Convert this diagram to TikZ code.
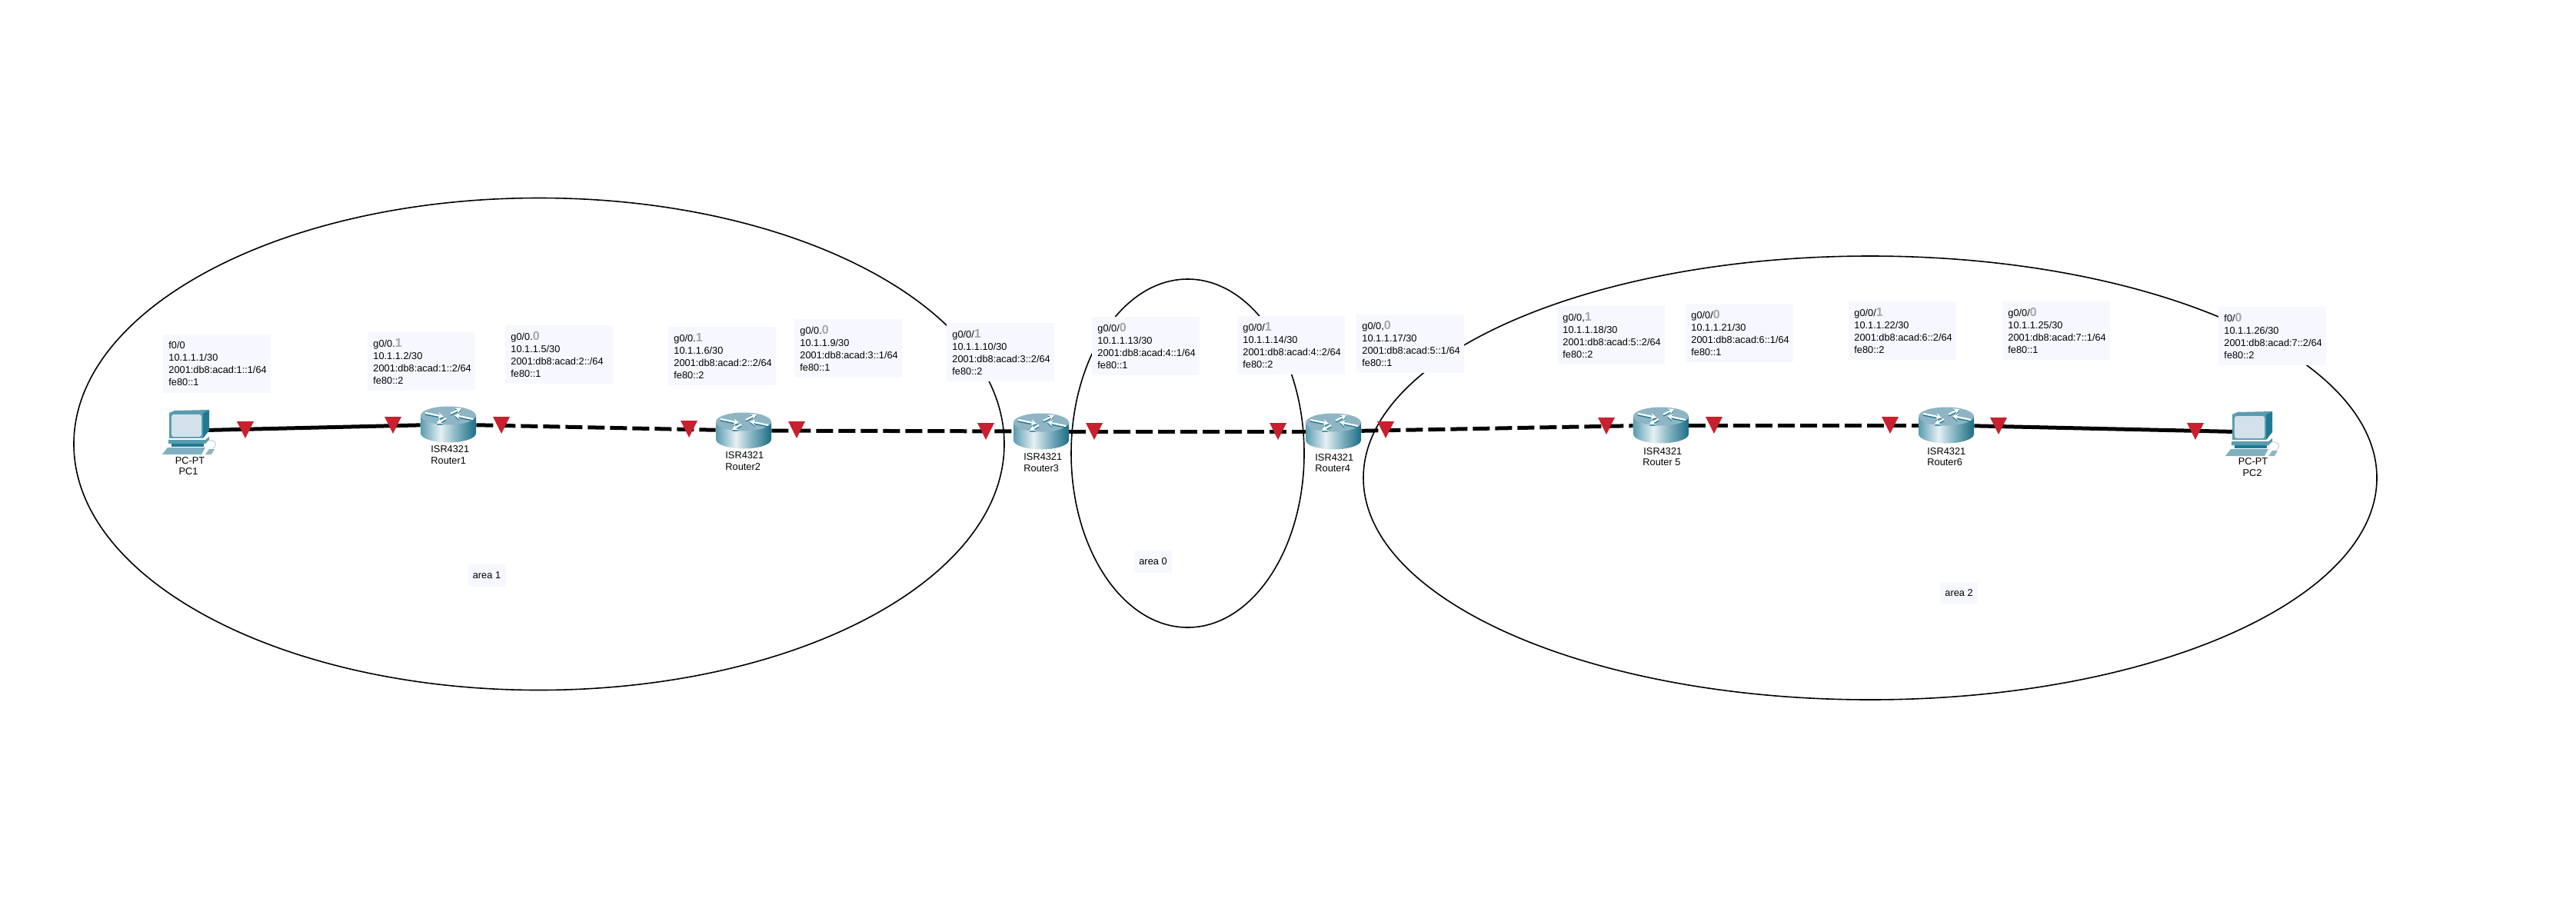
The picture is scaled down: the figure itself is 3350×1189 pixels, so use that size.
\documentclass[tikz,border=0pt]{standalone}
\usepackage{fontspec}
\setmainfont{Liberation Sans}
\usetikzlibrary{arrows.meta}
\definecolor{lblbg}{HTML}{F7F8FF}
\definecolor{tri}{HTML}{C8202F}
\definecolor{rtop}{HTML}{8FB5C4}
\definecolor{rdark}{HTML}{1F7A94}
\definecolor{rmid}{HTML}{5A9CB0}
\definecolor{rkey}{HTML}{7FB0BF}
\definecolor{rscreen}{HTML}{D3E2EA}
\pgfdeclarehorizontalshading{routerbody}{100bp}{color(0bp)=(rmid); color(25bp)=(rmid); color(43bp)=(white!85!rmid); color(58bp)=(rkey); color(75bp)=(rdark!90!black); color(100bp)=(rdark!90!black)}
\tikzset{
  lbl/.style={fill=lblbg,anchor=north west,minimum width=70pt,minimum height=38pt,inner xsep=3.5pt,inner ysep=0pt,text width=63pt,align=left,font=\fontsize{6.4}{8}\selectfont},
  devtxt/.style={inner sep=0pt,font=\fontsize{6.4}{8}\selectfont},
  arealbl/.style={fill=lblbg,minimum width=24.5pt,minimum height=14.5pt,inner sep=0pt,font=\fontsize{6.4}{8}\selectfont},
  area/.style={draw=black,line width=0.8pt},
  solidlink/.style={draw=black,line width=2.5pt},
  dashlink/.style={draw=black,line width=2.5pt,dash pattern=on 11pt off 3.5pt},
  rnode/.style={inner sep=0pt,minimum width=36pt,minimum height=23.5pt},
  pcnode/.style={inner sep=0pt,minimum size=1pt},
  rarrow/.style={line width=1.1pt,-{Stealth[length=3.6pt,width=4.2pt]}},
}
\newcommand{\smu}[1]{\textcolor{gray!70}{\fontsize{8}{8}\selectfont\textbf{#1}}}
\newcommand{\trimark}[2]{\fill[tri] (#1-11,#2) -- (#1+11,#2) -- (#1,#2+22) -- cycle;}
\newcommand{\routericon}[1]{%
  \begin{scope}[shift={(#1)}]
    \path[shading=routerbody] (-36,-11.5) -- (-36,11.5) arc[start angle=180,end angle=360,x radius=18pt,y radius=6pt] -- (36,-11.5) -- cycle;
    \fill[rtop] (0,-11.5) ellipse[x radius=18pt,y radius=6pt];
    \foreach \c/\o in {rdark/1.6,white/0}{
      \draw[rarrow,\c] (-30,-15+\o) -- (-6,-10+\o);
      \draw[rarrow,\c] (32,-7+\o) -- (8,-12+\o);
      \draw[rarrow,\c] (3,-14+\o) -- (17,-21+\o);
      \draw[rarrow,\c] (-3,-8+\o) -- (-15,-1+\o);
    }
  \end{scope}}
\newcommand{\pcicon}[1]{%
  \begin{scope}[shift={(#1)}]
    \fill[rmid] (-26,-23) -- (-19,-26) -- (26,-27) -- (18,-23) -- cycle;
    \fill[rdark] (18,-23) -- (26,-27) -- (26,0) -- (18,10) -- cycle;
    \fill[rmid] (-26,-23) rectangle (18,10);
    \fill[rscreen,rounded corners=1.5pt] (-23,-21) rectangle (16,8);
    \fill[rmid] (-27,12) -- (21,12) -- (26,8) -- (26,12) -- (21,17) -- (-27,17) -- cycle;
    \fill[rdark] (-23,17) rectangle (19,21);
    \fill[rkey] (-35,31) -- (-28,22) -- (21,22) -- (16,31) -- cycle;
    \fill[rtop] (21,31) -- (26,24) -- (33,24) -- (29,31) -- cycle;
    \draw[rscreen!80!gray,line width=0.5pt] (31,23) .. controls (38,18) and (34,12) .. (26,13);
  \end{scope}}
\begin{document}
\begin{tikzpicture}[x=0.5pt,y=-0.5pt]
\useasboundingbox (0,0) rectangle (3350,1189);
% areas
\draw[area] (701,577.5) ellipse[x radius=302.5pt,y radius=160pt];
\draw[area] (1544.5,589.5) ellipse[x radius=75.75pt,y radius=113.25pt];
\draw[area] (2432,621.5) ellipse[x radius=329.5pt,y radius=144.25pt];
% device anchors
\node[pcnode] (pc1) at (246,560) {};
\node[rnode] (r1) at (583,552) {};
\node[rnode] (r2) at (967,560) {};
\node[rnode] (r3) at (1354,561) {};
\node[rnode] (r4) at (1734,561) {};
\node[rnode] (r5) at (2160,553) {};
\node[rnode] (r6) at (2531,553) {};
\node[pcnode] (pc2) at (2929,562) {};
% links
\draw[solidlink] (pc1) -- (r1);
\draw[dashlink] (r1) -- (r2);
\draw[dashlink] (r2) -- (r3);
\draw[dashlink] (r3) -- (r4);
\draw[dashlink] (r4) -- (r5);
\draw[dashlink] (r5) -- (r6);
\draw[solidlink] (r6) -- (pc2);
% link-state marks
\trimark{319}{548}\trimark{511}{542}\trimark{652}{542}\trimark{896}{547}
\trimark{1036}{548}\trimark{1282}{550}\trimark{1423}{550}\trimark{1662}{550}
\trimark{1802}{548}\trimark{2089}{543}\trimark{2229}{542}\trimark{2458}{542}
\trimark{2599}{543}\trimark{2855}{550}
% icons
\pcicon{pc1}
\routericon{r1}\routericon{r2}\routericon{r3}\routericon{r4}\routericon{r5}\routericon{r6}
\pcicon{pc2}
% device labels
\node[devtxt] (pc1a) at (247,599) {PC-PT};
\node[devtxt] (pc1b) at (245,613) {PC1};
\node[devtxt,anchor=west] (r1a) at (560,584) {ISR4321};
\node[devtxt,anchor=west] (r1b) at (560,599) {Router1};
\node[devtxt,anchor=west] (r2a) at (943,592) {ISR4321};
\node[devtxt,anchor=west] (r2b) at (943,607) {Router2};
\node[devtxt,anchor=west] (r3a) at (1331,594) {ISR4321};
\node[devtxt,anchor=west] (r3b) at (1331,609) {Router3};
\node[devtxt,anchor=west] (r4a) at (1710,595) {ISR4321};
\node[devtxt,anchor=west] (r4b) at (1710,609) {Router4};
\node[devtxt,anchor=west] (r5a) at (2137,587) {ISR4321};
\node[devtxt,anchor=west] (r5b) at (2136,601) {Router 5};
\node[devtxt,anchor=west] (r6a) at (2506,587) {ISR4321};
\node[devtxt,anchor=west] (r6b) at (2506,601) {Router6};
\node[devtxt] (pc2a) at (2930,600) {PC-PT};
\node[devtxt] (pc2b) at (2929,615) {PC2};
% address boxes
\node[lbl] (l1) at (212,435) {f0/0\\10.1.1.1/30\\2001:db8:acad:1::1/64\\fe80::1};
\node[lbl] (l2) at (478,432) {g0/0.\smu{1}\\10.1.1.2/30\\2001:db8:acad:1::2/64\\fe80::2};
\node[lbl] (l3) at (657,423) {g0/0.\smu{0}\\10.1.1.5/30\\2001:db8:acad:2::/64\\fe80::1};
\node[lbl] (l4) at (869,425) {g0/0.\smu{1}\\10.1.1.6/30\\2001:db8:acad:2::2/64\\fe80::2};
\node[lbl] (l5) at (1033,415) {g0/0.\smu{0}\\10.1.1.9/30\\2001:db8:acad:3::1/64\\fe80::1};
\node[lbl] (l6) at (1231,420) {g0/0/\smu{1}\\10.1.1.10/30\\2001:db8:acad:3::2/64\\fe80::2};
\node[lbl] (l7) at (1420,412) {g0/0/\smu{0}\\10.1.1.13/30\\2001:db8:acad:4::1/64\\fe80::1};
\node[lbl] (l8) at (1609,411) {g0/0/\smu{1}\\10.1.1.14/30\\2001:db8:acad:4::2/64\\fe80::2};
\node[lbl] (l9) at (1764,409) {g0/0,\smu{0}\\10.1.1.17/30\\2001:db8:acad:5::1/64\\fe80::1};
\node[lbl] (l10) at (2025,398) {g0/0,\smu{1}\\10.1.1.18/30\\2001:db8:acad:5::2/64\\fe80::2};
\node[lbl] (l11) at (2192,395) {g0/0/\smu{0}\\10.1.1.21/30\\2001:db8:acad:6::1/64\\fe80::1};
\node[lbl] (l12) at (2404,392) {g0/0/\smu{1}\\10.1.1.22/30\\2001:db8:acad:6::2/64\\fe80::2};
\node[lbl] (l13) at (2604,392) {g0/0/\smu{0}\\10.1.1.25/30\\2001:db8:acad:7::1/64\\fe80::1};
\node[lbl] (l14) at (2885,399) {f0/\smu{0}\\10.1.1.26/30\\2001:db8:acad:7::2/64\\fe80::2};
% area labels
\node[arealbl] (a1) at (633,748) {area 1};
\node[arealbl] (a0) at (1499.5,730.5) {area 0};
\node[arealbl] (a2) at (2547.5,771.5) {area 2};
\end{tikzpicture}
\end{document}
